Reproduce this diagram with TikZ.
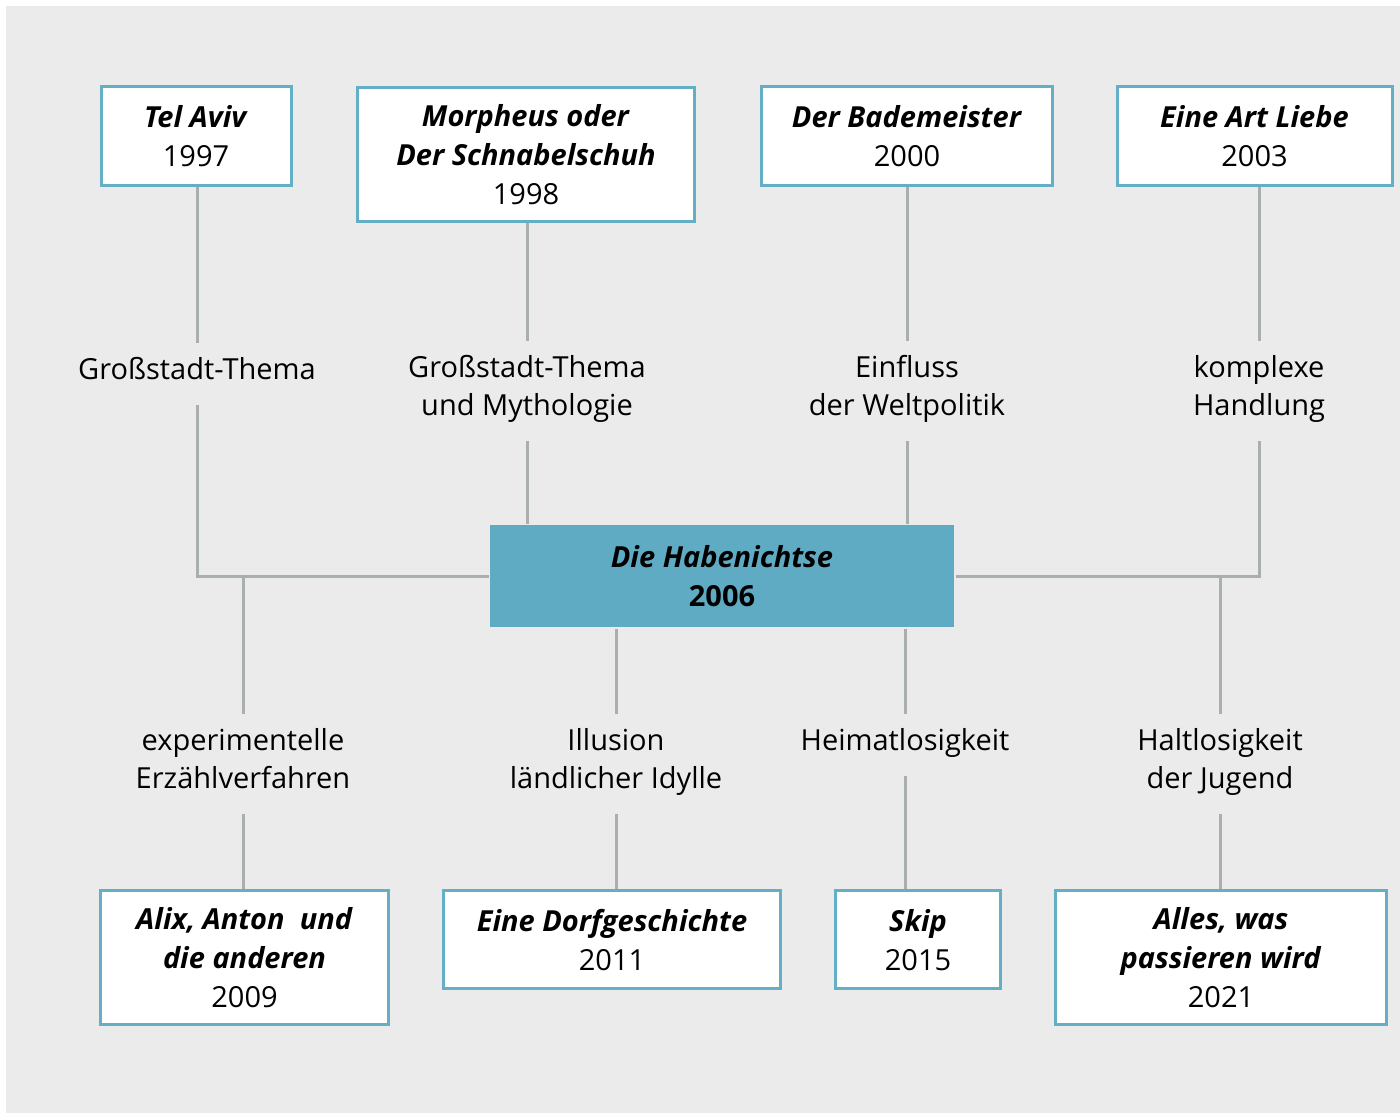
\documentclass[tikz,border=0pt]{standalone}
\usepackage{fontspec}
\setmainfont{Open Sans}
\definecolor{bggray}{HTML}{EBEBEB}
\definecolor{boxblue}{HTML}{64AFC6}
\definecolor{midblue}{HTML}{5FABC4}
\definecolor{linegray}{HTML}{A9AEAE}
\tikzset{
  work/.style={draw=boxblue, line width=3pt, fill=white, align=center, inner sep=0pt, text depth=0pt,
    execute at begin node={\rule{0pt}{34pt}}, font=\fontsize{29}{39}\selectfont},
  theme/.style={align=center, inner xsep=4pt, inner ysep=14pt, text depth=12pt,
    font=\fontsize{29}{38}\selectfont},
  link/.style={draw=linegray, line width=3pt}
}
\begin{document}
\begin{tikzpicture}[x=1pt, y=-1pt]
\useasboundingbox (0,0) rectangle (1400,1113);
\fill[white] (0,0) rectangle (1400,1113);
\fill[bggray] (6,6) rectangle (1400,1113);

\node[work, minimum width=190, minimum height=98] (telaviv) at (196,136) {\textbf{\textit{Tel Aviv}}\\1997};
\node[work, minimum width=337, minimum height=134] (morpheus) at (526,154.5) {\textbf{\textit{Morpheus oder}}\\\textbf{\textit{Der Schnabelschuh}}\\1998};
\node[work, minimum width=291, minimum height=98] (bademeister) at (907,136) {\textbf{\textit{Der Bademeister}}\\2000};
\node[work, minimum width=275, minimum height=98] (artliebe) at (1254.5,136) {\textbf{\textit{Eine Art Liebe}}\\2003};

\node[work, draw=none, fill=midblue, minimum width=464, minimum height=102] (habenichtse) at (722,576) {\textbf{\textit{Die Habenichtse}}\\\textbf{2006}};

\node[work, minimum width=288, minimum height=134] (alix) at (244.5,957.5) {\textbf{\textit{Alix, Anton~ und}}\\\textbf{\textit{die anderen}}\\2009};
\node[work, minimum width=337, minimum height=98] (dorf) at (612,939.5) {\textbf{\textit{Eine Dorfgeschichte}}\\2011};
\node[work, minimum width=165, minimum height=98] (skip) at (918,939.5) {\textbf{\textit{Skip}}\\2015};
\node[work, minimum width=331, minimum height=134] (alles) at (1221,957.5) {\textbf{\textit{Alles, was}}\\\textbf{\textit{passieren wird}}\\2021};

\node[theme] (grossstadt) at (197,374) {Großstadt-Thema};
\node[theme] (mythologie) at (527,391) {Großstadt-Thema\\und Mythologie};
\node[theme] (weltpolitik) at (907,391) {Einfluss\\der Weltpolitik};
\node[theme] (handlung) at (1259,391) {komplexe\\Handlung};

\node[theme] (erzaehlen) at (243,764) {experimentelle\\Erzählverfahren};
\node[theme] (idylle) at (616,764) {Illusion\\ländlicher Idylle};
\node[theme] (heimat) at (905,745) {Heimatlosigkeit};
\node[theme] (jugend) at (1220,764) {Haltlosigkeit\\der Jugend};

\draw[link] (grossstadt |- telaviv.south) -- (grossstadt);
\draw[link] (grossstadt) |- (habenichtse);
\draw[link] (mythologie |- morpheus.south) -- (mythologie);
\draw[link] (mythologie) -- (mythologie |- habenichtse.north);
\draw[link] (weltpolitik |- bademeister.south) -- (weltpolitik);
\draw[link] (weltpolitik) -- (weltpolitik |- habenichtse.north);
\draw[link] (handlung |- artliebe.south) -- (handlung);
\draw[link] (handlung) |- (habenichtse);

\draw[link] (erzaehlen |- habenichtse) -- (erzaehlen);
\draw[link] (erzaehlen) -- (erzaehlen |- alix.north);
\draw[link] (idylle |- habenichtse.south) -- (idylle);
\draw[link] (idylle) -- (idylle |- dorf.north);
\draw[link] (heimat |- habenichtse.south) -- (heimat);
\draw[link] (heimat) -- (heimat |- skip.north);
\draw[link] (jugend |- habenichtse) -- (jugend);
\draw[link] (jugend) -- (jugend |- alles.north);
\end{tikzpicture}
\end{document}
